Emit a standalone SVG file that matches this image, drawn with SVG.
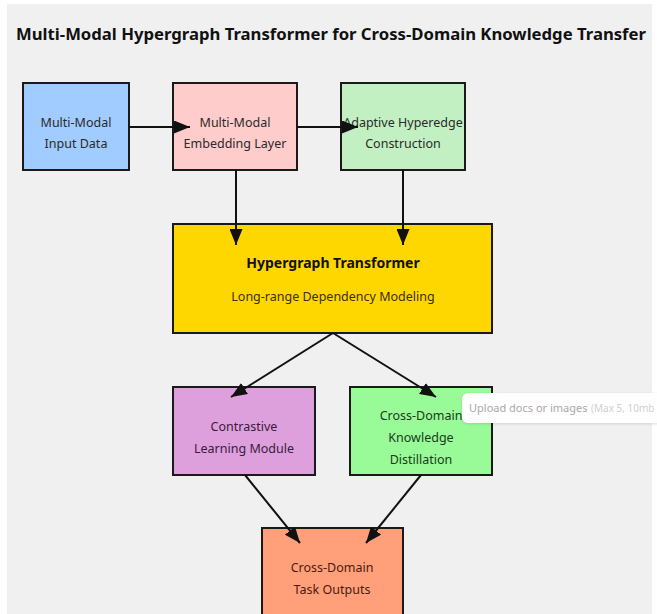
<svg xmlns="http://www.w3.org/2000/svg" width="657" height="614" viewBox="0 0 657 614">
  <style>
    .node rect { stroke: #1a1a1a; stroke-width: 2; }
    .label { font-family: "Noto Sans", "Open Sans", sans-serif; font-size: 12.5px; fill: #2a2a2a; text-anchor: middle; }
    .title { font-family: "Noto Sans", "Open Sans", sans-serif; font-size: 16px; font-weight: bold; fill: #111; }
    .edge { stroke: #111; stroke-width: 2; fill: none; marker-end: url(#arrow); }
    .tip { font-family: "Noto Sans", "Open Sans", sans-serif; font-size: 11px; }
  </style>
  <defs>
    <marker id="arrow" viewBox="0 0 16 13" refX="16" refY="6.5" markerWidth="16" markerHeight="13" markerUnits="userSpaceOnUse" orient="auto">
      <path d="M0,0 L16,6.5 L0,13 Z" fill="#111"/>
    </marker>
    <filter id="shadow" x="-10%" y="-30%" width="120%" height="160%">
      <feDropShadow dx="0" dy="1" stdDeviation="1.5" flood-color="#000" flood-opacity="0.12"/>
    </filter>
  </defs>

  <!-- page -->
  <rect x="0" y="0" width="657" height="614" fill="#ffffff"/>
  <rect x="7" y="4" width="645" height="610" fill="#f0f0f0"/>

  <text class="title" x="16" y="40" textLength="630" lengthAdjust="spacingAndGlyphs">Multi-Modal Hypergraph Transformer for Cross-Domain Knowledge Transfer</text>

  <!-- nodes -->
  <g id="input" class="node">
    <rect x="23" y="83" width="106" height="87" fill="#a0ccff"/>
    <text class="label" x="76" y="127">Multi-Modal</text>
    <text class="label" x="76" y="148">Input Data</text>
  </g>
  <g id="embedding" class="node">
    <rect x="173" y="83" width="124" height="87" fill="#ffcccc"/>
    <text class="label" x="235" y="127">Multi-Modal</text>
    <text class="label" x="235" y="148">Embedding Layer</text>
  </g>
  <g id="hyperedge" class="node">
    <rect x="341" y="83" width="124" height="87" fill="#c2f0c2"/>
    <text class="label" x="403" y="127">Adaptive Hyperedge</text>
    <text class="label" x="403" y="148">Construction</text>
  </g>
  <g id="transformer" class="node">
    <rect x="173" y="224" width="319" height="109" fill="#ffd700"/>
    <text class="label" x="333" y="268" style="font-weight:bold;font-size:14px;fill:#111">Hypergraph Transformer</text>
    <text class="label" x="333" y="301" style="fill:#3a3000">Long-range Dependency Modeling</text>
  </g>
  <g id="contrastive" class="node">
    <rect x="173" y="387" width="142" height="88" fill="#dda0dd"/>
    <text class="label" x="244" y="431" style="fill:#3a1a3a">Contrastive</text>
    <text class="label" x="244" y="453" style="fill:#3a1a3a">Learning Module</text>
  </g>
  <g id="distillation" class="node">
    <rect x="350" y="387" width="142" height="88" fill="#98fb98"/>
    <text class="label" x="421" y="420" style="fill:#1a3a1a">Cross-Domain</text>
    <text class="label" x="421" y="442" style="fill:#1a3a1a">Knowledge</text>
    <text class="label" x="421" y="464" style="fill:#1a3a1a">Distillation</text>
  </g>
  <g id="outputs" class="node">
    <rect x="262" y="528" width="141" height="100" fill="#ffa07a"/>
    <text class="label" x="332" y="572" style="fill:#4a1a0a">Cross-Domain</text>
    <text class="label" x="332" y="594" style="fill:#4a1a0a">Task Outputs</text>
  </g>

  <!-- connectors -->
  <g id="connectors">
    <line class="edge" x1="129" y1="127" x2="190" y2="127"/>
    <line class="edge" x1="297" y1="127" x2="358" y2="127"/>
    <line class="edge" x1="236" y1="170" x2="236" y2="245"/>
    <line class="edge" x1="403" y1="170" x2="403" y2="245"/>
    <line class="edge" x1="333" y1="333" x2="231" y2="397"/>
    <line class="edge" x1="333" y1="333" x2="436" y2="397"/>
    <line class="edge" x1="245" y1="475" x2="300" y2="543"/>
    <line class="edge" x1="421" y1="475" x2="366" y2="543"/>
  </g>

  <!-- upload tooltip -->
  <g id="tooltip">
    <rect x="462" y="393" width="210" height="30" rx="6" fill="#ffffff" filter="url(#shadow)"/>
    <text class="tip" x="469" y="412" fill="#a8a8a8">Upload docs or images</text>
    <text class="tip" x="591" y="412" fill="#cfcfcf" style="font-size:10px">(Max 5, 10mb</text>
  </g>
</svg>
